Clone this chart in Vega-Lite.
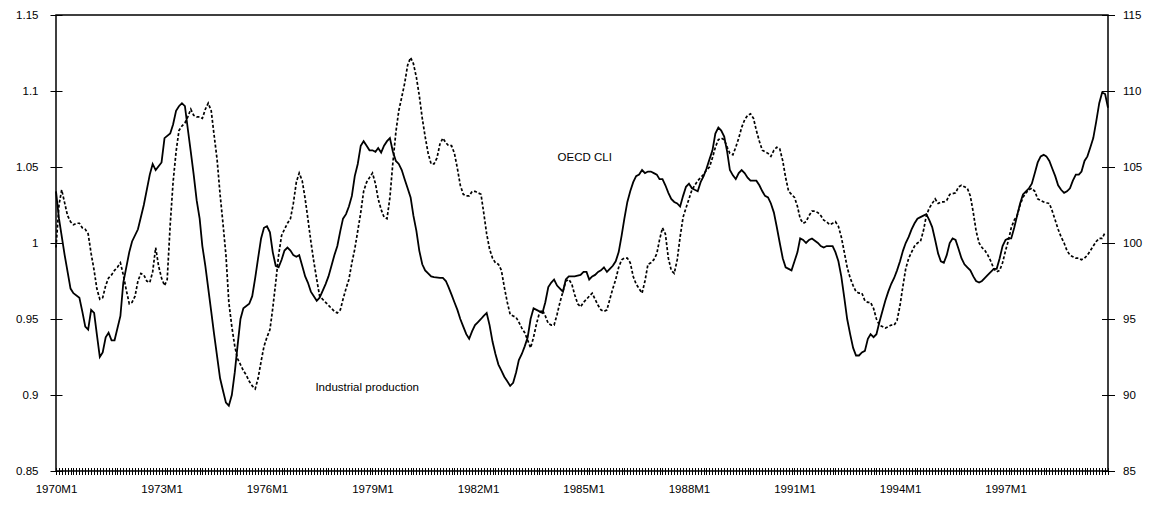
{
"$schema":"https://vega.github.io/schema/vega-lite/v6.json",
"width":1052,"height":456,
"autosize":"none",
"padding":{"left":56,"top":15,"right":50,"bottom":34},
"background":"white",
"config":{"view":{"stroke":"black","strokeWidth":1.5},"font":"Liberation Sans",
"axis":{"grid":false,"domain":false,"labelFont":"Liberation Sans","labelFontSize":11.5,"labelColor":"black","tickColor":"black","tickWidth":1,"title":null}},
"datasets":{
"cli":[
{"d":"1970-01","v":1.034},{"d":"1970-02","v":1.016},{"d":"1970-04","v":0.992},{"d":"1970-06","v":0.970},{"d":"1970-07","v":0.967},{"d":"1970-09","v":0.964},{"d":"1970-10","v":0.955},{"d":"1970-11","v":0.945},{"d":"1970-12","v":0.943},
{"d":"1971-01","v":0.956},{"d":"1971-02","v":0.954},{"d":"1971-03","v":0.940},{"d":"1971-04","v":0.925},{"d":"1971-05","v":0.928},{"d":"1971-06","v":0.938},{"d":"1971-07","v":0.941},{"d":"1971-08","v":0.936},{"d":"1971-09","v":0.936},{"d":"1971-11","v":0.952},{"d":"1971-12","v":0.974},
{"d":"1972-02","v":0.994},{"d":"1972-03","v":1.001},{"d":"1972-05","v":1.009},{"d":"1972-07","v":1.025},{"d":"1972-09","v":1.045},{"d":"1972-10","v":1.052},{"d":"1972-11","v":1.048},
{"d":"1973-01","v":1.053},{"d":"1973-02","v":1.069},{"d":"1973-04","v":1.072},{"d":"1973-05","v":1.078},{"d":"1973-06","v":1.087},{"d":"1973-07","v":1.090},{"d":"1973-08","v":1.092},{"d":"1973-09","v":1.090},{"d":"1973-10","v":1.075},{"d":"1973-11","v":1.060},{"d":"1973-12","v":1.045},
{"d":"1974-01","v":1.028},{"d":"1974-02","v":1.016},{"d":"1974-03","v":0.998},{"d":"1974-04","v":0.985},{"d":"1974-06","v":0.955},{"d":"1974-07","v":0.940},{"d":"1974-09","v":0.911},{"d":"1974-10","v":0.903},{"d":"1974-11","v":0.895},{"d":"1974-12","v":0.893},
{"d":"1975-01","v":0.900},{"d":"1975-02","v":0.915},{"d":"1975-03","v":0.932},{"d":"1975-04","v":0.950},{"d":"1975-05","v":0.957},{"d":"1975-07","v":0.960},{"d":"1975-08","v":0.965},{"d":"1975-09","v":0.977},{"d":"1975-10","v":0.990},{"d":"1975-11","v":1.003},{"d":"1975-12","v":1.010},
{"d":"1976-01","v":1.011},{"d":"1976-02","v":1.007},{"d":"1976-03","v":0.994},{"d":"1976-04","v":0.985},{"d":"1976-05","v":0.984},{"d":"1976-06","v":0.989},{"d":"1976-07","v":0.995},{"d":"1976-08","v":0.997},{"d":"1976-09","v":0.995},{"d":"1976-10","v":0.992},{"d":"1976-11","v":0.991},{"d":"1976-12","v":0.992},
{"d":"1977-01","v":0.985},{"d":"1977-02","v":0.978},{"d":"1977-03","v":0.974},{"d":"1977-04","v":0.968},{"d":"1977-06","v":0.962},{"d":"1977-07","v":0.964},{"d":"1977-09","v":0.973},{"d":"1977-10","v":0.978},{"d":"1977-11","v":0.985},{"d":"1977-12","v":0.992},
{"d":"1978-01","v":0.998},{"d":"1978-02","v":1.008},{"d":"1978-03","v":1.016},{"d":"1978-04","v":1.019},{"d":"1978-05","v":1.024},{"d":"1978-06","v":1.031},{"d":"1978-07","v":1.044},{"d":"1978-08","v":1.052},{"d":"1978-09","v":1.064},{"d":"1978-10","v":1.067},{"d":"1978-11","v":1.064},{"d":"1978-12","v":1.061},
{"d":"1979-01","v":1.061},{"d":"1979-02","v":1.060},{"d":"1979-03","v":1.0625},{"d":"1979-04","v":1.0595},{"d":"1979-05","v":1.064},{"d":"1979-06","v":1.067},{"d":"1979-07","v":1.069},{"d":"1979-08","v":1.060},{"d":"1979-09","v":1.054},{"d":"1979-10","v":1.052},{"d":"1979-11","v":1.048},{"d":"1979-12","v":1.042},
{"d":"1980-01","v":1.036},{"d":"1980-02","v":1.030},{"d":"1980-03","v":1.018},{"d":"1980-04","v":1.008},{"d":"1980-05","v":0.995},{"d":"1980-06","v":0.986},{"d":"1980-07","v":0.982},{"d":"1980-08","v":0.980},{"d":"1980-09","v":0.978},{"d":"1980-10","v":0.9776},{"d":"1980-12","v":0.977},
{"d":"1981-01","v":0.977},{"d":"1981-02","v":0.975},{"d":"1981-03","v":0.971},{"d":"1981-04","v":0.966},{"d":"1981-05","v":0.961},{"d":"1981-06","v":0.956},{"d":"1981-07","v":0.950},{"d":"1981-08","v":0.945},{"d":"1981-09","v":0.940},{"d":"1981-10","v":0.937},{"d":"1981-11","v":0.942},{"d":"1981-12","v":0.946},
{"d":"1982-01","v":0.948},{"d":"1982-02","v":0.950},{"d":"1982-03","v":0.952},{"d":"1982-04","v":0.954},{"d":"1982-05","v":0.946},{"d":"1982-06","v":0.935},{"d":"1982-07","v":0.927},{"d":"1982-08","v":0.920},{"d":"1982-09","v":0.916},{"d":"1982-10","v":0.912},{"d":"1982-11","v":0.909},{"d":"1982-12","v":0.906},
{"d":"1983-01","v":0.908},{"d":"1983-02","v":0.915},{"d":"1983-03","v":0.923},{"d":"1983-04","v":0.927},{"d":"1983-05","v":0.932},{"d":"1983-06","v":0.938},{"d":"1983-07","v":0.950},{"d":"1983-08","v":0.957},{"d":"1983-09","v":0.956},{"d":"1983-10","v":0.955},{"d":"1983-11","v":0.954},{"d":"1983-12","v":0.961},
{"d":"1984-01","v":0.971},{"d":"1984-02","v":0.974},{"d":"1984-03","v":0.976},{"d":"1984-04","v":0.972},{"d":"1984-05","v":0.970},{"d":"1984-06","v":0.968},{"d":"1984-07","v":0.976},{"d":"1984-08","v":0.978},{"d":"1984-10","v":0.978},{"d":"1984-12","v":0.979},
{"d":"1985-01","v":0.981},{"d":"1985-02","v":0.981},{"d":"1985-03","v":0.976},{"d":"1985-04","v":0.978},{"d":"1985-05","v":0.979},{"d":"1985-06","v":0.981},{"d":"1985-07","v":0.982},{"d":"1985-08","v":0.984},{"d":"1985-09","v":0.981},{"d":"1985-10","v":0.983},{"d":"1985-11","v":0.985},{"d":"1985-12","v":0.988},
{"d":"1986-01","v":0.994},{"d":"1986-02","v":1.005},{"d":"1986-03","v":1.016},{"d":"1986-04","v":1.027},{"d":"1986-05","v":1.034},{"d":"1986-06","v":1.040},{"d":"1986-07","v":1.044},{"d":"1986-08","v":1.045},{"d":"1986-09","v":1.048},{"d":"1986-10","v":1.046},{"d":"1986-11","v":1.047},{"d":"1986-12","v":1.047},
{"d":"1987-01","v":1.046},{"d":"1987-02","v":1.045},{"d":"1987-03","v":1.042},{"d":"1987-04","v":1.042},{"d":"1987-05","v":1.038},{"d":"1987-06","v":1.033},{"d":"1987-07","v":1.029},{"d":"1987-08","v":1.027},{"d":"1987-09","v":1.026},{"d":"1987-10","v":1.024},{"d":"1987-11","v":1.031},{"d":"1987-12","v":1.037},
{"d":"1988-01","v":1.039},{"d":"1988-02","v":1.036},{"d":"1988-03","v":1.035},{"d":"1988-04","v":1.034},{"d":"1988-05","v":1.040},{"d":"1988-06","v":1.044},{"d":"1988-07","v":1.049},{"d":"1988-08","v":1.055},{"d":"1988-09","v":1.061},{"d":"1988-10","v":1.072},{"d":"1988-11","v":1.076},{"d":"1988-12","v":1.074},
{"d":"1989-01","v":1.070},{"d":"1989-02","v":1.060},{"d":"1989-03","v":1.048},{"d":"1989-04","v":1.0445},{"d":"1989-05","v":1.042},{"d":"1989-06","v":1.046},{"d":"1989-07","v":1.048},{"d":"1989-08","v":1.046},{"d":"1989-09","v":1.043},{"d":"1989-10","v":1.041},{"d":"1989-12","v":1.041},
{"d":"1990-01","v":1.038},{"d":"1990-02","v":1.034},{"d":"1990-03","v":1.031},{"d":"1990-04","v":1.030},{"d":"1990-05","v":1.026},{"d":"1990-06","v":1.020},{"d":"1990-07","v":1.0105},{"d":"1990-08","v":1.000},{"d":"1990-09","v":0.990},{"d":"1990-10","v":0.984},{"d":"1990-11","v":0.983},{"d":"1990-12","v":0.982},
{"d":"1991-01","v":0.988},{"d":"1991-02","v":0.994},{"d":"1991-03","v":1.003},{"d":"1991-04","v":1.002},{"d":"1991-05","v":1.000},{"d":"1991-06","v":1.002},{"d":"1991-07","v":1.003},{"d":"1991-09","v":1.000},{"d":"1991-10","v":0.998},{"d":"1991-11","v":0.997},{"d":"1991-12","v":0.998},
{"d":"1992-02","v":0.998},{"d":"1992-03","v":0.994},{"d":"1992-04","v":0.988},{"d":"1992-05","v":0.978},{"d":"1992-06","v":0.964},{"d":"1992-07","v":0.950},{"d":"1992-08","v":0.940},{"d":"1992-09","v":0.931},{"d":"1992-10","v":0.926},{"d":"1992-11","v":0.926},{"d":"1992-12","v":0.928},
{"d":"1993-01","v":0.929},{"d":"1993-02","v":0.937},{"d":"1993-03","v":0.940},{"d":"1993-04","v":0.938},{"d":"1993-05","v":0.940},{"d":"1993-06","v":0.948},{"d":"1993-07","v":0.955},{"d":"1993-08","v":0.962},{"d":"1993-09","v":0.968},{"d":"1993-10","v":0.973},{"d":"1993-11","v":0.977},{"d":"1993-12","v":0.982},
{"d":"1994-01","v":0.988},{"d":"1994-02","v":0.995},{"d":"1994-03","v":1.000},{"d":"1994-04","v":1.004},{"d":"1994-05","v":1.009},{"d":"1994-06","v":1.013},{"d":"1994-07","v":1.016},{"d":"1994-08","v":1.017},{"d":"1994-09","v":1.018},{"d":"1994-10","v":1.019},{"d":"1994-11","v":1.015},{"d":"1994-12","v":1.0105},
{"d":"1995-01","v":1.002},{"d":"1995-02","v":0.993},{"d":"1995-03","v":0.988},{"d":"1995-04","v":0.987},{"d":"1995-05","v":0.992},{"d":"1995-06","v":1.000},{"d":"1995-07","v":1.003},{"d":"1995-08","v":1.002},{"d":"1995-09","v":0.996},{"d":"1995-10","v":0.990},{"d":"1995-11","v":0.986},{"d":"1995-12","v":0.984},
{"d":"1996-01","v":0.982},{"d":"1996-02","v":0.978},{"d":"1996-03","v":0.975},{"d":"1996-04","v":0.974},{"d":"1996-05","v":0.975},{"d":"1996-06","v":0.977},{"d":"1996-07","v":0.979},{"d":"1996-08","v":0.981},{"d":"1996-09","v":0.983},{"d":"1996-10","v":0.983},{"d":"1996-11","v":0.990},{"d":"1996-12","v":0.998},
{"d":"1997-01","v":1.002},{"d":"1997-02","v":1.003},{"d":"1997-03","v":1.003},{"d":"1997-04","v":1.010},{"d":"1997-05","v":1.018},{"d":"1997-06","v":1.026},{"d":"1997-07","v":1.032},{"d":"1997-08","v":1.034},{"d":"1997-09","v":1.036},{"d":"1997-10","v":1.039},{"d":"1997-11","v":1.046},{"d":"1997-12","v":1.053},
{"d":"1998-01","v":1.057},{"d":"1998-02","v":1.058},{"d":"1998-03","v":1.057},{"d":"1998-04","v":1.054},{"d":"1998-05","v":1.049},{"d":"1998-06","v":1.044},{"d":"1998-07","v":1.038},{"d":"1998-08","v":1.035},{"d":"1998-09","v":1.033},{"d":"1998-10","v":1.034},{"d":"1998-11","v":1.036},{"d":"1998-12","v":1.041},
{"d":"1999-01","v":1.045},{"d":"1999-02","v":1.045},{"d":"1999-03","v":1.047},{"d":"1999-04","v":1.054},{"d":"1999-05","v":1.057},{"d":"1999-06","v":1.063},{"d":"1999-07","v":1.069},{"d":"1999-08","v":1.080},{"d":"1999-09","v":1.092},{"d":"1999-10","v":1.099},{"d":"1999-11","v":1.098},{"d":"1999-12","v":1.089}
],
"ip":[
{"d":"1970-01","v":99.7},{"d":"1970-02","v":102.5},{"d":"1970-03","v":103.5},{"d":"1970-05","v":101.8},{"d":"1970-06","v":101.4},{"d":"1970-07","v":101.2},{"d":"1970-08","v":101.3},{"d":"1970-09","v":101.3},{"d":"1970-10","v":101.0},{"d":"1970-11","v":100.9},{"d":"1970-12","v":100.6},
{"d":"1971-01","v":99.3},{"d":"1971-02","v":98.2},{"d":"1971-03","v":97.0},{"d":"1971-04","v":96.3},{"d":"1971-05","v":96.4},{"d":"1971-06","v":97.2},{"d":"1971-07","v":97.7},{"d":"1971-08","v":97.9},{"d":"1971-09","v":98.2},{"d":"1971-10","v":98.4},{"d":"1971-11","v":98.7},{"d":"1971-12","v":97.9},
{"d":"1972-01","v":96.9},{"d":"1972-02","v":96.0},{"d":"1972-03","v":96.1},{"d":"1972-04","v":96.5},{"d":"1972-05","v":97.5},{"d":"1972-06","v":98.0},{"d":"1972-07","v":97.9},{"d":"1972-08","v":97.5},{"d":"1972-09","v":97.4},{"d":"1972-10","v":98.1},{"d":"1972-11","v":99.7},{"d":"1972-12","v":98.5},
{"d":"1973-01","v":97.7},{"d":"1973-02","v":97.2},{"d":"1973-03","v":97.6},{"d":"1973-04","v":101.2},{"d":"1973-05","v":104.0},{"d":"1973-06","v":106.0},{"d":"1973-07","v":107.4},{"d":"1973-08","v":107.7},{"d":"1973-09","v":107.9},{"d":"1973-10","v":108.3},{"d":"1973-11","v":108.8},{"d":"1973-12","v":108.4},
{"d":"1974-01","v":108.3},{"d":"1974-02","v":108.3},{"d":"1974-03","v":108.2},{"d":"1974-04","v":108.8},{"d":"1974-05","v":109.2},{"d":"1974-06","v":108.7},{"d":"1974-07","v":107.1},{"d":"1974-08","v":105.5},{"d":"1974-09","v":103.2},{"d":"1974-10","v":101.3},{"d":"1974-11","v":99.2},{"d":"1974-12","v":96.1},
{"d":"1975-01","v":94.5},{"d":"1975-02","v":93.2},{"d":"1975-03","v":92.4},{"d":"1975-04","v":92.0},{"d":"1975-05","v":91.6},{"d":"1975-06","v":91.3},{"d":"1975-07","v":90.9},{"d":"1975-08","v":90.6},{"d":"1975-09","v":90.4},{"d":"1975-10","v":91.1},{"d":"1975-11","v":92.2},{"d":"1975-12","v":93.2},
{"d":"1976-01","v":93.8},{"d":"1976-02","v":94.3},{"d":"1976-03","v":95.7},{"d":"1976-04","v":97.4},{"d":"1976-05","v":99.2},{"d":"1976-06","v":100.5},{"d":"1976-07","v":100.9},{"d":"1976-08","v":101.3},{"d":"1976-09","v":101.6},{"d":"1976-10","v":102.6},{"d":"1976-11","v":104.0},{"d":"1976-12","v":104.6},
{"d":"1977-01","v":104.1},{"d":"1977-02","v":102.9},{"d":"1977-03","v":101.6},{"d":"1977-04","v":100.1},{"d":"1977-05","v":98.8},{"d":"1977-06","v":97.6},{"d":"1977-07","v":96.5},{"d":"1977-08","v":96.3},{"d":"1977-09","v":96.1},{"d":"1977-10","v":95.9},{"d":"1977-11","v":95.7},{"d":"1977-12","v":95.5},
{"d":"1978-01","v":95.4},{"d":"1978-02","v":95.6},{"d":"1978-03","v":96.3},{"d":"1978-04","v":97.0},{"d":"1978-05","v":97.6},{"d":"1978-06","v":98.7},{"d":"1978-07","v":99.6},{"d":"1978-08","v":100.8},{"d":"1978-09","v":102.0},{"d":"1978-10","v":103.4},{"d":"1978-11","v":104.0},{"d":"1978-12","v":104.3},
{"d":"1979-01","v":104.6},{"d":"1979-02","v":103.9},{"d":"1979-03","v":102.9},{"d":"1979-04","v":102.2},{"d":"1979-05","v":101.7},{"d":"1979-06","v":101.6},{"d":"1979-07","v":103.0},{"d":"1979-08","v":105.3},{"d":"1979-09","v":107.3},{"d":"1979-10","v":108.7},{"d":"1979-11","v":109.6},{"d":"1979-12","v":110.5},
{"d":"1980-01","v":111.7},{"d":"1980-02","v":112.2},{"d":"1980-03","v":111.8},{"d":"1980-04","v":110.9},{"d":"1980-05","v":109.7},{"d":"1980-06","v":108.2},{"d":"1980-07","v":107.0},{"d":"1980-08","v":105.9},{"d":"1980-09","v":105.2},{"d":"1980-10","v":105.2},{"d":"1980-11","v":105.6},{"d":"1980-12","v":106.5},
{"d":"1981-01","v":106.9},{"d":"1981-02","v":106.6},{"d":"1981-03","v":106.4},{"d":"1981-04","v":106.4},{"d":"1981-05","v":105.9},{"d":"1981-06","v":104.9},{"d":"1981-07","v":103.8},{"d":"1981-08","v":103.2},{"d":"1981-09","v":103.1},{"d":"1981-10","v":103.1},{"d":"1981-11","v":103.4},{"d":"1981-12","v":103.4},
{"d":"1982-01","v":103.3},{"d":"1982-02","v":103.2},{"d":"1982-03","v":102.0},{"d":"1982-04","v":100.6},{"d":"1982-05","v":99.6},{"d":"1982-06","v":99.0},{"d":"1982-07","v":98.7},{"d":"1982-08","v":98.6},{"d":"1982-09","v":98.2},{"d":"1982-10","v":97.1},{"d":"1982-11","v":96.1},{"d":"1982-12","v":95.3},
{"d":"1983-01","v":95.2},{"d":"1983-02","v":95.1},{"d":"1983-03","v":94.8},{"d":"1983-04","v":94.4},{"d":"1983-05","v":94.1},{"d":"1983-06","v":93.6},{"d":"1983-07","v":93.1},{"d":"1983-08","v":93.8},{"d":"1983-09","v":94.7},{"d":"1983-10","v":95.4},{"d":"1983-11","v":95.6},{"d":"1983-12","v":95.2},
{"d":"1984-01","v":94.7},{"d":"1984-02","v":94.6},{"d":"1984-03","v":94.6},{"d":"1984-04","v":95.3},{"d":"1984-05","v":96.1},{"d":"1984-06","v":96.8},{"d":"1984-07","v":97.5},{"d":"1984-08","v":97.6},{"d":"1984-09","v":97.3},{"d":"1984-10","v":96.6},{"d":"1984-11","v":96.0},{"d":"1984-12","v":95.8},
{"d":"1985-01","v":96.1},{"d":"1985-02","v":96.3},{"d":"1985-03","v":96.5},{"d":"1985-04","v":96.7},{"d":"1985-05","v":96.3},{"d":"1985-06","v":95.9},{"d":"1985-07","v":95.6},{"d":"1985-08","v":95.5},{"d":"1985-09","v":95.6},{"d":"1985-10","v":96.3},{"d":"1985-11","v":97.0},{"d":"1985-12","v":97.6},
{"d":"1986-01","v":98.4},{"d":"1986-02","v":98.9},{"d":"1986-03","v":99.0},{"d":"1986-04","v":99.0},{"d":"1986-05","v":98.7},{"d":"1986-06","v":97.8},{"d":"1986-07","v":97.3},{"d":"1986-08","v":97.0},{"d":"1986-09","v":96.7},{"d":"1986-10","v":97.5},{"d":"1986-11","v":98.6},{"d":"1986-12","v":98.7},
{"d":"1987-01","v":98.9},{"d":"1987-02","v":99.3},{"d":"1987-03","v":100.2},{"d":"1987-04","v":101.0},{"d":"1987-05","v":100.6},{"d":"1987-06","v":99.0},{"d":"1987-07","v":98.2},{"d":"1987-08","v":98.0},{"d":"1987-09","v":98.9},{"d":"1987-10","v":100.4},{"d":"1987-11","v":101.7},{"d":"1987-12","v":102.3},
{"d":"1988-01","v":102.9},{"d":"1988-02","v":103.5},{"d":"1988-03","v":103.8},{"d":"1988-04","v":104.1},{"d":"1988-05","v":104.3},{"d":"1988-06","v":104.5},{"d":"1988-07","v":104.8},{"d":"1988-08","v":105.0},{"d":"1988-09","v":105.6},{"d":"1988-10","v":106.3},{"d":"1988-11","v":106.8},{"d":"1988-12","v":106.9},
{"d":"1989-01","v":106.8},{"d":"1989-02","v":106.3},{"d":"1989-03","v":105.9},{"d":"1989-04","v":105.8},{"d":"1989-05","v":106.3},{"d":"1989-06","v":106.9},{"d":"1989-07","v":107.6},{"d":"1989-08","v":108.1},{"d":"1989-09","v":108.4},{"d":"1989-10","v":108.5},{"d":"1989-11","v":108.2},{"d":"1989-12","v":107.4},
{"d":"1990-01","v":106.7},{"d":"1990-02","v":106.1},{"d":"1990-03","v":106.0},{"d":"1990-04","v":105.9},{"d":"1990-05","v":105.7},{"d":"1990-06","v":106.1},{"d":"1990-07","v":106.3},{"d":"1990-08","v":106.2},{"d":"1990-09","v":105.4},{"d":"1990-10","v":104.3},{"d":"1990-11","v":103.4},{"d":"1990-12","v":103.2},
{"d":"1991-01","v":103.0},{"d":"1991-02","v":102.4},{"d":"1991-03","v":101.6},{"d":"1991-04","v":101.3},{"d":"1991-05","v":101.4},{"d":"1991-06","v":101.8},{"d":"1991-07","v":102.1},{"d":"1991-08","v":102.1},{"d":"1991-09","v":102.0},{"d":"1991-10","v":101.8},{"d":"1991-11","v":101.5},{"d":"1991-12","v":101.4},
{"d":"1992-01","v":101.2},{"d":"1992-02","v":101.3},{"d":"1992-03","v":101.4},{"d":"1992-04","v":101.1},{"d":"1992-05","v":100.4},{"d":"1992-06","v":99.4},{"d":"1992-07","v":98.4},{"d":"1992-08","v":97.7},{"d":"1992-09","v":97.2},{"d":"1992-10","v":96.8},{"d":"1992-11","v":96.7},{"d":"1992-12","v":96.7},
{"d":"1993-01","v":96.2},{"d":"1993-02","v":96.1},{"d":"1993-03","v":96.1},{"d":"1993-04","v":95.7},{"d":"1993-05","v":95.0},{"d":"1993-06","v":94.6},{"d":"1993-07","v":94.5},{"d":"1993-08","v":94.4},{"d":"1993-09","v":94.5},{"d":"1993-10","v":94.6},{"d":"1993-11","v":94.6},{"d":"1993-12","v":94.9},
{"d":"1994-01","v":95.9},{"d":"1994-02","v":97.2},{"d":"1994-03","v":98.3},{"d":"1994-04","v":99.0},{"d":"1994-05","v":99.4},{"d":"1994-06","v":99.8},{"d":"1994-07","v":100.0},{"d":"1994-08","v":100.1},{"d":"1994-09","v":100.8},{"d":"1994-10","v":101.8},{"d":"1994-11","v":102.3},{"d":"1994-12","v":102.6},
{"d":"1995-01","v":102.9},{"d":"1995-02","v":102.6},{"d":"1995-03","v":102.7},{"d":"1995-04","v":102.7},{"d":"1995-05","v":102.8},{"d":"1995-06","v":103.2},{"d":"1995-07","v":103.25},{"d":"1995-08","v":103.3},{"d":"1995-09","v":103.7},{"d":"1995-10","v":103.8},{"d":"1995-11","v":103.7},{"d":"1995-12","v":103.6},
{"d":"1996-01","v":103.1},{"d":"1996-02","v":102.0},{"d":"1996-03","v":100.8},{"d":"1996-04","v":100.0},{"d":"1996-05","v":99.7},{"d":"1996-06","v":99.5},{"d":"1996-07","v":99.2},{"d":"1996-08","v":98.8},{"d":"1996-09","v":98.3},{"d":"1996-10","v":98.1},{"d":"1996-11","v":98.2},{"d":"1996-12","v":98.7},
{"d":"1997-01","v":99.5},{"d":"1997-02","v":100.2},{"d":"1997-03","v":101.0},{"d":"1997-04","v":101.5},{"d":"1997-05","v":101.8},{"d":"1997-06","v":102.5},{"d":"1997-07","v":103.0},{"d":"1997-08","v":103.3},{"d":"1997-09","v":103.5},{"d":"1997-10","v":103.6},{"d":"1997-11","v":103.4},{"d":"1997-12","v":102.9},
{"d":"1998-01","v":102.8},{"d":"1998-02","v":102.7},{"d":"1998-03","v":102.65},{"d":"1998-04","v":102.6},{"d":"1998-05","v":102.1},{"d":"1998-06","v":101.5},{"d":"1998-07","v":100.9},{"d":"1998-08","v":100.4},{"d":"1998-09","v":100.0},{"d":"1998-10","v":99.5},{"d":"1998-11","v":99.2},{"d":"1998-12","v":99.1},
{"d":"1999-01","v":99.0},{"d":"1999-02","v":99.0},{"d":"1999-03","v":98.9},{"d":"1999-04","v":99.0},{"d":"1999-05","v":99.2},{"d":"1999-06","v":99.5},{"d":"1999-07","v":99.8},{"d":"1999-08","v":100.1},{"d":"1999-09","v":100.3},{"d":"1999-10","v":100.3},{"d":"1999-11","v":100.7}
],
"labels":[
{"d":"1985-01-13","v":1.0557,"t":"OECD CLI"},
{"d":"1978-11-07","v":0.9044,"t":"Industrial production"}
]},
"layer":[
{"data":{"name":"cli"},
 "mark":{"type":"line","color":"black","strokeWidth":1.8},
 "encoding":{
  "x":{"field":"d","type":"temporal","scale":{"type":"utc","domain":[{"year":1970,"month":1,"date":1,"utc":true},{"year":1999,"month":12,"date":1,"utc":true}]},
   "axis":{"orient":"bottom","offset":-3.5,"tickSize":7,"tickCount":{"interval":"month","step":1},"labelOverlap":false,"labelFlush":false,"labelAlign":"center","labelPadding":9,
    "labelExpr":"utcmonth(datum.value) == 0 && (utcyear(datum.value) - 1970) % 3 == 0 ? utcFormat(datum.value, '%YM1') : ''"}},
  "y":{"field":"v","type":"quantitative","scale":{"domain":[0.85,1.15],"zero":false,"nice":false},
   "axis":{"orient":"left","values":[0.85,0.9,0.95,1,1.05,1.1,1.15],"format":"~g","offset":-6,"tickSize":12,"labelPadding":12}}}},
{"data":{"name":"ip"},
 "mark":{"type":"line","color":"black","strokeWidth":1.7,"strokeDash":[3,2]},
 "encoding":{
  "x":{"field":"d","type":"temporal"},
  "y":{"field":"v","type":"quantitative","scale":{"domain":[85,115],"zero":false,"nice":false},
   "axis":{"orient":"right","values":[85,90,95,100,105,110,115],"offset":-6.5,"tickSize":13,"labelPadding":8}}}},
{"data":{"name":"labels"},
 "mark":{"type":"text","font":"Liberation Sans","fontSize":11.5,"color":"black","align":"center","baseline":"middle"},
 "encoding":{
  "x":{"field":"d","type":"temporal"},
  "y":{"field":"v","type":"quantitative","scale":{"domain":[0.85,1.15],"zero":false,"nice":false},"axis":null},
  "text":{"field":"t"}}}
],
"resolve":{"scale":{"y":"independent"},"axis":{"y":"independent"}}
}
